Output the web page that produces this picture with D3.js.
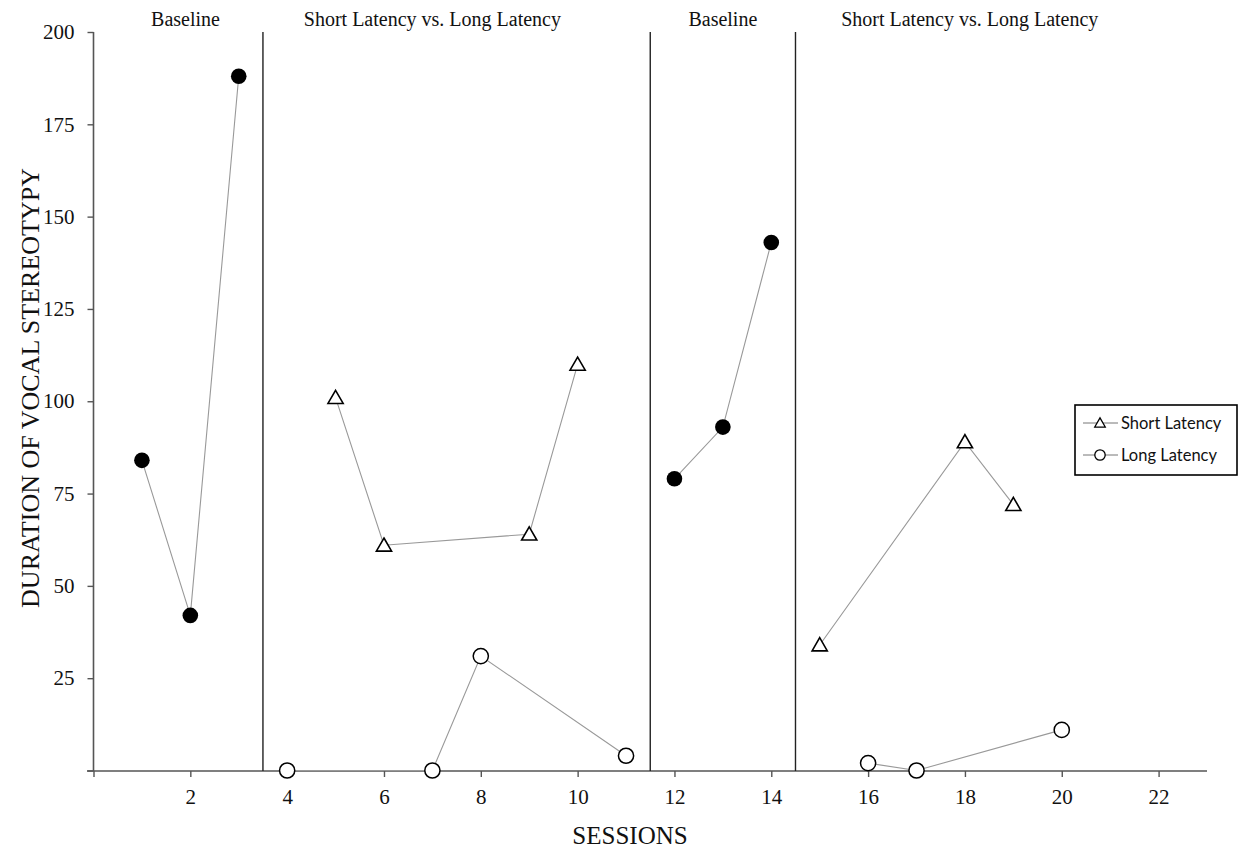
<!DOCTYPE html>
<html><head><meta charset="utf-8">
<script src="https://cdn.jsdelivr.net/npm/d3@7"></script>
<style>body{margin:0;background:#fff;}svg{display:block;}</style>
</head><body>
<svg id="chart" width="1245" height="851"></svg>
<script>
// Data
const baseline1 = [[1,84],[2,42],[3,188]];
const shortLatency1 = [[5,101],[6,61],[9,64],[10,110]];
const longLatency1 = [[4,0],[7,0],[8,31],[11,4]];
const baseline2 = [[12,79],[13,93],[14,143]];
const shortLatency2 = [[15,34],[18,89],[19,72]];
const longLatency2 = [[16,2],[17,0],[20,11]];
const phaseLines = [3.5, 11.5, 14.5];
const phaseLabels = [
  {x:1.9, text:"Baseline"},
  {x:7.0, text:"Short Latency vs. Long Latency"},
  {x:13, text:"Baseline"},
  {x:18.1, text:"Short Latency vs. Long Latency"}
];
const xTicks = [0,2,4,6,8,10,12,14,16,18,20,22];
const yTicks = [0,25,50,75,100,125,150,175,200];

const svg = d3.select("#chart");
const serif = "'Liberation Serif','Times New Roman',serif";
const x = d3.scaleLinear().domain([0,23]).range([93.5,1207]);
const y = d3.scaleLinear().domain([0,200]).range([770.5,32]);

// Axes
const xAxis = svg.append("g").attr("transform","translate(0,771)")
  .call(d3.axisBottom(x).tickValues(xTicks).tickSize(6).tickPadding(12)
    .tickFormat(d => d===0 ? "" : d));
xAxis.select(".domain").attr("d","M87,0H1207").attr("stroke","#555").attr("stroke-width",1.6);
xAxis.selectAll(".tick line").attr("stroke","#555").attr("stroke-width",1.4);
xAxis.selectAll("text").attr("font-family",serif).attr("font-size",21).attr("fill","#111");

const yAxis = svg.append("g").attr("transform","translate(93.5,0)")
  .call(d3.axisLeft(y).tickValues(yTicks).tickSize(6).tickPadding(13)
    .tickFormat(d => d===0 ? "" : d));
yAxis.select(".domain").attr("d","M0,32V771").attr("stroke","#555").attr("stroke-width",1.6);
yAxis.selectAll(".tick line").attr("stroke","#555").attr("stroke-width",1.4);
yAxis.selectAll("text").attr("font-family",serif).attr("font-size",21).attr("fill","#111");

// Phase lines
svg.selectAll("line.phase").data(phaseLines).enter().append("line")
  .attr("x1",d=>x(d)).attr("x2",d=>x(d)).attr("y1",32).attr("y2",771)
  .attr("stroke","#222").attr("stroke-width",1.4);

svg.selectAll("text.phase").data(phaseLabels).enter().append("text")
  .attr("x",d=>x(d.x)).attr("y",26).attr("text-anchor","middle")
  .attr("font-family",serif).attr("font-size",20).attr("fill","#111").text(d=>d.text);

// Axis titles
svg.append("text").attr("x",630).attr("y",844).attr("text-anchor","middle")
  .attr("font-family",serif).attr("font-size",25).attr("fill","#111").text("SESSIONS");
svg.append("text").attr("transform","translate(39,388) rotate(-90)").attr("text-anchor","middle")
  .attr("font-family",serif).attr("font-size",26).attr("fill","#111").text("DURATION OF VOCAL STEREOTYPY");

// Lines
const line = d3.line().x(d=>x(d[0])).y(d=>y(d[1]));
[baseline1, shortLatency1, longLatency1, baseline2, shortLatency2, longLatency2].forEach(s => {
  svg.append("path").datum(s).attr("d",line).attr("fill","none").attr("stroke","#999").attr("stroke-width",1.1);
});

const tri = d3.symbol().type(d3.symbolTriangle).size(100);
function drawFilled(s){
  svg.append("g").selectAll("circle").data(s).enter().append("circle")
    .attr("cx",d=>x(d[0])).attr("cy",d=>y(d[1])).attr("r",7.8).attr("fill","#000");
}
function drawOpen(s){
  svg.append("g").selectAll("circle").data(s).enter().append("circle")
    .attr("cx",d=>x(d[0])).attr("cy",d=>y(d[1])).attr("r",7.6).attr("fill","#fff").attr("stroke","#000").attr("stroke-width",1.5);
}
function drawTri(s){
  svg.append("g").selectAll("path").data(s).enter().append("path")
    .attr("d",tri).attr("transform",d=>`translate(${x(d[0])},${y(d[1])+1.5})`)
    .attr("fill","#fff").attr("stroke","#000").attr("stroke-width",1.6);
}
drawFilled(baseline1); drawFilled(baseline2);
drawTri(shortLatency1); drawTri(shortLatency2);
drawOpen(longLatency1); drawOpen(longLatency2);

// Legend
const lg = svg.append("g");
lg.append("rect").attr("x",1075).attr("y",405).attr("width",162).attr("height",70)
  .attr("fill","#fff").attr("stroke","#000").attr("stroke-width",1.6);
const legItems = [{label:"Short Latency", type:"tri", yy:423},{label:"Long Latency", type:"circ", yy:455}];
legItems.forEach(it => {
  lg.append("line").attr("x1",1083).attr("x2",1118).attr("y1",it.yy).attr("y2",it.yy).attr("stroke","#777").attr("stroke-width",1);
  if(it.type==="tri"){
    lg.append("path").attr("d",d3.symbol().type(d3.symbolTriangle).size(48)).attr("transform",`translate(1100,${it.yy+1})`)
      .attr("fill","#fff").attr("stroke","#000").attr("stroke-width",1.3);
  } else {
    lg.append("circle").attr("cx",1100).attr("cy",it.yy).attr("r",5.2).attr("fill","#fff").attr("stroke","#000").attr("stroke-width",1.3);
  }
  lg.append("text").attr("x",1121).attr("y",it.yy+5.5).attr("font-family","Lato,'Open Sans',sans-serif")
    .attr("font-size",16.5).attr("fill","#111").text(it.label);
});
</script>
</body></html>
